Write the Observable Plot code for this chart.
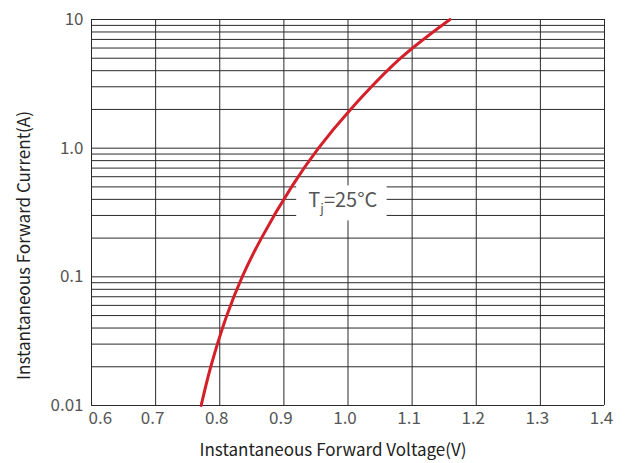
<!DOCTYPE html>
<html>
<head>
<meta charset="utf-8">
<script src="https://cdn.jsdelivr.net/npm/d3@7"></script>
<script src="https://cdn.jsdelivr.net/npm/@observablehq/plot@0.6"></script>
<style>
  html, body { margin: 0; padding: 0; background: #fff; }
  #chart svg { display: block; }
</style>
</head>
<body>
<div id="chart"></div>
<script>
// Data (Tj = 25°C)
const current = [0.01, 0.02, 0.05, 0.1, 0.2, 0.5, 1.0, 2, 5, 10];
const voltage = [0.771, 0.786, 0.811, 0.835, 0.865, 0.912, 0.954, 1.004, 1.082, 1.159];

const xTicks = [0.6, 0.7, 0.8, 0.9, 1.0, 1.1, 1.2, 1.3, 1.4];
const yTicks = [0.01, 0.1, 1, 10];
const yTickLabels = ["0.01", "0.1", "1.0", "10"];
const yGrid = [];
for (const d of [0.01, 0.1, 1]) for (let k = 1; k <= 9; k++) yGrid.push(+(d * k).toPrecision(3));
yGrid.push(10);

const xTitle = "Instantaneous Forward Voltage(V)";
const yTitle = "Instantaneous Forward Current(A)";
const labelText = "Tj=25°C";
const labelV = 0.992, labelI = 0.39;
const labelBox = {x1: 0.92, x2: 1.061, y1: 0.272, y2: 0.509};

const curve = voltage.map((v, i) => ({v, i: current[i]}));

const font = "'Noto Sans CJK SC', 'Noto Sans', sans-serif";

const chart = Plot.plot({
  width: 629,
  height: 463,
  marginLeft: 91,
  marginRight: 25,
  marginTop: 19,
  marginBottom: 58,
  style: {fontFamily: font, fontSize: "17px", color: "#333", background: "#fff"},
  x: {domain: [0.6, 1.4]},
  y: {type: "log", domain: [0.01, 10]},
  marks: [
    Plot.ruleY(yGrid, {stroke: "#2a2a2a", strokeWidth: 1}),
    Plot.ruleX(xTicks, {stroke: "#2a2a2a", strokeWidth: 1}),
    Plot.rect([labelBox], {x1: "x1", x2: "x2", y1: "y1", y2: "y2", fill: "#fff"}),
    Plot.axisX(xTicks.slice(1), {tickSize: 0, tickPadding: 6, dx: -3, tickFormat: d => d.toFixed(1), fontSize: 17, fill: "#555", label: null}),
    Plot.axisX(xTicks.slice(0, 1), {tickSize: 0, tickPadding: 6, dx: -3, textAnchor: "start", tickFormat: d => d.toFixed(1), fontSize: 17, fill: "#555", label: null}),
    Plot.axisY(yTicks, {tickSize: 0, tickPadding: 8, tickFormat: d => yTickLabels[yTicks.indexOf(d)], fontSize: 17, fill: "#555", label: null}),
    Plot.text([xTitle], {frameAnchor: "bottom", text: d => d, dx: -15, dy: 45, textAnchor: "middle", lineAnchor: "middle", fontSize: 17, fill: "#222"}),
    Plot.text([yTitle], {frameAnchor: "left", text: d => d, dx: -67, dy: 33, rotate: -90, textAnchor: "middle", lineAnchor: "middle", fontSize: 17, fill: "#222"}),
    Plot.line(curve, {x: "v", y: "i", stroke: "#d4202a", strokeWidth: 3, curve: "catmull-rom"}),
    Plot.text([labelText], {x: () => labelV, y: () => labelI, text: d => d, fontSize: 20, fill: "#555"})
  ]
});

// render subscript j
chart.querySelectorAll("text").forEach(t => {
  if (t.textContent === labelText) {
    while (t.firstChild) t.removeChild(t.firstChild);
    const ns = "http://www.w3.org/2000/svg";
    const a = document.createElementNS(ns, "tspan"); a.textContent = "T";
    const b = document.createElementNS(ns, "tspan"); b.textContent = "j";
    b.setAttribute("font-size", "13"); b.setAttribute("dy", "6");
    const c = document.createElementNS(ns, "tspan"); c.textContent = "=25°C";
    c.setAttribute("dy", "-6");
    t.append(a, b, c);
  }
});

document.getElementById("chart").appendChild(chart);
</script>
</body>
</html>
